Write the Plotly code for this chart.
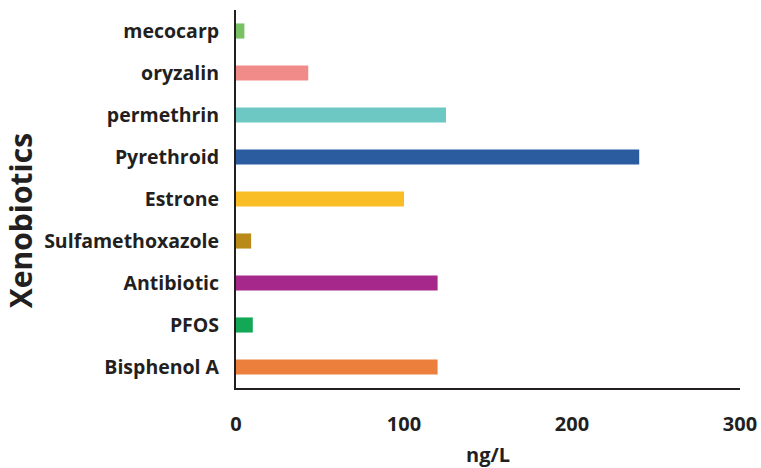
import plotly.graph_objects as go

categories = ["Bisphenol A", "PFOS", "Antibiotic", "Sulfamethoxazole", "Estrone",
              "Pyrethroid", "permethrin", "oryzalin", "mecocarp"]
values = [120, 10, 120, 9, 100, 240, 125, 43, 5]
colors = ["#EC7F3C", "#12A856", "#A6288A", "#B98A18", "#F9BD26",
          "#2A5C9F", "#6DC7C2", "#F08B8A", "#78C164"]
x_ticks = [0, 100, 200, 300]
y_title = "Xenobiotics"
x_title = "ng/L"

FONT = "'Open Sans', sans-serif"

fig = go.Figure(go.Bar(
    y=categories, x=values, orientation="h",
    marker=dict(color=colors, line=dict(width=0)),
))

fig.update_layout(
    width=761, height=468,
    margin=dict(l=236, r=21, t=10, b=80, autoexpand=False),
    paper_bgcolor="white", plot_bgcolor="white",
    bargap=0.64,
    showlegend=False,
    font=dict(family=FONT, color="#231F20"),
    annotations=[dict(
        text=y_title, textangle=-90, xref="paper", yref="paper",
        x=-0.4286, y=0.444, xanchor="center", yanchor="middle", showarrow=False,
        font=dict(family=FONT, size=30, color="#231F20", weight="bold"),
    )],
)
fig.update_xaxes(
    range=[0, 300], tickvals=x_ticks, showgrid=False, zeroline=False,
    showline=True, linecolor="#231F20", linewidth=2,
    ticks="", ticklabelstandoff=17, automargin=True,
    tickfont=dict(family=FONT, size=20, color="#231F20", weight="bold"),
    title=dict(text=x_title, font=dict(family=FONT, size=20, weight="bold"), standoff=14),
)
fig.update_yaxes(
    range=[-0.5, 8.5], showgrid=False, zeroline=False,
    showline=True, linecolor="#231F20", linewidth=2,
    ticks="", ticklabelstandoff=11, automargin=True,
    tickfont=dict(family=FONT, size=19.5, color="#231F20", weight="bold"),
)

# remove the browser's default 8px body margin so the figure sits at the page origin
fig.write_html("out.html", config={"displayModeBar": False},
               post_script="document.body.style.margin='0';")
